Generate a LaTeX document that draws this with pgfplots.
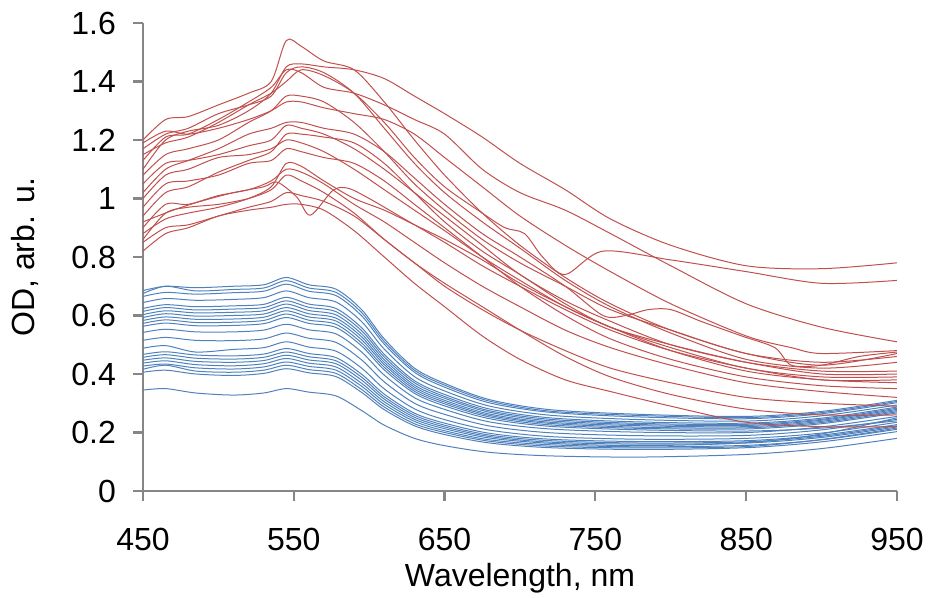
\documentclass[border=0pt]{standalone}
\usepackage{fontspec}
\setmainfont{Liberation Sans}
\usepackage{pgfplots}
\pgfplotsset{compat=1.18}
\definecolor{rd}{HTML}{C0504D}
\definecolor{bl}{HTML}{4F81BD}
\definecolor{axc}{RGB}{134,134,134}
\begin{document}
\fontsize{16}{19}\selectfont
\begin{tikzpicture}
\begin{axis}[
 scale only axis, width=377pt, height=234pt,
 xmin=450, xmax=950, ymin=0, ymax=1.6,
 axis x line*=bottom, axis y line*=left,
 axis line style={axc, line width=1.1pt, -},
 xtick={450,550,650,750,850,950},
 ytick={0,0.2,0.4,0.6,0.8,1,1.2,1.4,1.6},
 tick style={axc, line width=1.1pt},
 tick align=outside, major tick length=5pt,
 font=\fontsize{16}{19}\selectfont,
 ticklabel style={font=\fontsize{16}{19}\selectfont},
 xticklabel style={yshift=-8pt},
 yticklabel style={xshift=-3pt},
 /pgf/number format/assume math mode=true,
 xlabel={Wavelength, nm}, ylabel={OD, arb. u.},
 xlabel style={at={(axis description cs:0.5,-0.186)}, anchor=center},
 ylabel style={at={(axis description cs:-0.1565,0.5)}, anchor=center},
 every axis plot/.append style={line width=0.5pt, smooth, tension=0.5, no markers},
]
% ---- blue series ----
\addplot[bl] coordinates {(450,.345)(465,.350)(485,.335)(510,.328)(530,.335)(545,.350)(560,.338)(578,.325)(595,.275)(610,.225)(630,.180)(650,.155)(680,.132)(720,.120)(780,.116)(850,.125)(900,.145)(950,.180)};
\addplot[bl] coordinates {(450,.406)(465,.413)(485,.400)(510,.395)(530,.402)(545,.418)(560,.404)(578,.391)(595,.337)(610,.278)(630,.223)(650,.193)(680,.164)(720,.148)(780,.142)(850,.148)(900,.168)(950,.203)};
\addplot[bl] coordinates {(450,.416)(465,.430)(485,.410)(510,.406)(530,.413)(545,.430)(560,.415)(578,.402)(595,.347)(610,.287)(630,.230)(650,.200)(680,.170)(720,.153)(780,.147)(850,.152)(900,.176)(950,.215)};
\addplot[bl] coordinates {(450,.427)(465,.434)(485,.421)(510,.417)(530,.424)(545,.441)(560,.426)(578,.413)(595,.358)(610,.296)(630,.238)(650,.206)(680,.175)(720,.158)(780,.151)(850,.156)(900,.175)(950,.211)};
\addplot[bl] coordinates {(450,.437)(465,.445)(485,.432)(510,.428)(530,.435)(545,.453)(560,.437)(578,.424)(595,.368)(610,.305)(630,.245)(650,.213)(680,.181)(720,.163)(780,.155)(850,.165)(900,.195)(950,.250)};
\addplot[bl] coordinates {(450,.447)(465,.455)(485,.443)(510,.440)(530,.446)(545,.464)(560,.448)(578,.435)(595,.379)(610,.314)(630,.252)(650,.219)(680,.186)(720,.167)(780,.160)(850,.164)(900,.183)(950,.219)};
\addplot[bl] coordinates {(450,.457)(465,.466)(485,.454)(510,.451)(530,.457)(545,.475)(560,.459)(578,.445)(595,.389)(610,.322)(630,.259)(650,.225)(680,.191)(720,.172)(780,.164)(850,.168)(900,.187)(950,.223)};
\addplot[bl] coordinates {(450,.467)(465,.476)(485,.465)(510,.462)(530,.468)(545,.487)(560,.470)(578,.456)(595,.399)(610,.331)(630,.266)(650,.232)(680,.197)(720,.177)(780,.169)(850,.172)(900,.191)(950,.227)};
\addplot[bl] coordinates {(450,.488)(465,.497)(485,.475)(510,.484)(530,.490)(545,.510)(560,.492)(578,.478)(595,.420)(610,.349)(630,.281)(650,.244)(680,.208)(720,.186)(780,.177)(850,.180)(900,.198)(950,.235)};
\addplot[bl] coordinates {(450,.515)(465,.525)(485,.515)(510,.514)(530,.520)(545,.540)(560,.522)(578,.508)(595,.448)(610,.373)(630,.300)(650,.262)(680,.222)(720,.199)(780,.189)(850,.190)(900,.209)(950,.245)};
\addplot[bl] coordinates {(450,.542)(465,.553)(485,.544)(510,.544)(530,.550)(545,.570)(560,.551)(578,.537)(595,.475)(610,.396)(630,.319)(650,.279)(680,.236)(720,.212)(780,.201)(850,.200)(900,.219)(950,.255)};
\addplot[bl] coordinates {(450,.563)(465,.574)(485,.565)(510,.566)(530,.572)(545,.593)(560,.573)(578,.559)(595,.496)(610,.414)(630,.334)(650,.291)(680,.247)(720,.221)(780,.209)(850,.205)(900,.215)(950,.240)};
\addplot[bl] coordinates {(450,.573)(465,.585)(485,.576)(510,.577)(530,.583)(545,.605)(560,.584)(578,.570)(595,.506)(610,.423)(630,.341)(650,.298)(680,.253)(720,.226)(780,.214)(850,.212)(900,.230)(950,.267)};
\addplot[bl] coordinates {(450,.583)(465,.595)(485,.587)(510,.588)(530,.594)(545,.616)(560,.595)(578,.581)(595,.517)(610,.432)(630,.348)(650,.304)(680,.258)(720,.231)(780,.218)(850,.216)(900,.234)(950,.271)};
\addplot[bl] coordinates {(450,.593)(465,.606)(485,.598)(510,.600)(530,.605)(545,.627)(560,.606)(578,.591)(595,.527)(610,.440)(630,.355)(650,.310)(680,.263)(720,.235)(780,.223)(850,.220)(900,.238)(950,.275)};
\addplot[bl] coordinates {(450,.603)(465,.616)(485,.609)(510,.611)(530,.616)(545,.639)(560,.617)(578,.602)(595,.537)(610,.449)(630,.362)(650,.317)(680,.269)(720,.240)(780,.227)(850,.224)(900,.242)(950,.279)};
\addplot[bl] coordinates {(450,.614)(465,.627)(485,.619)(510,.622)(530,.627)(545,.650)(560,.628)(578,.613)(595,.548)(610,.458)(630,.370)(650,.323)(680,.274)(720,.245)(780,.231)(850,.228)(900,.245)(950,.283)};
\addplot[bl] coordinates {(450,.624)(465,.637)(485,.630)(510,.633)(530,.638)(545,.662)(560,.639)(578,.624)(595,.558)(610,.467)(630,.377)(650,.330)(680,.280)(720,.250)(780,.236)(850,.232)(900,.249)(950,.287)};
\addplot[bl] coordinates {(450,.644)(465,.658)(485,.652)(510,.655)(530,.661)(545,.684)(560,.661)(578,.646)(595,.579)(610,.485)(630,.391)(650,.342)(680,.290)(720,.259)(780,.244)(850,.239)(900,.257)(950,.294)};
\addplot[bl] coordinates {(450,.665)(465,.679)(485,.673)(510,.678)(530,.683)(545,.707)(560,.683)(578,.668)(595,.599)(610,.502)(630,.406)(650,.355)(680,.301)(720,.269)(780,.253)(850,.247)(900,.264)(950,.302)};
\addplot[bl] coordinates {(450,.675)(465,.700)(485,.684)(510,.689)(530,.694)(545,.719)(560,.694)(578,.679)(595,.610)(610,.511)(630,.413)(650,.362)(680,.307)(720,.273)(780,.258)(850,.251)(900,.268)(950,.306)};
\addplot[bl] coordinates {(450,.685)(465,.700)(485,.695)(510,.700)(530,.705)(545,.730)(560,.705)(578,.690)(595,.620)(610,.520)(630,.420)(650,.368)(680,.312)(720,.278)(780,.262)(850,.255)(900,.272)(950,.310)};
% ---- red series ----
\addplot[rd] coordinates {(450,1.20)(465,1.27)(480,1.28)(500,1.32)(520,1.36)(535,1.40)(545,1.54)(555,1.52)(570,1.47)(590,1.44)(610,1.33)(630,1.20)(650,1.08)(675,0.95)(700,0.84)(730,0.73)(760,0.64)(800,0.55)(850,0.47)(900,0.43)(950,0.47)};
\addplot[rd] coordinates {(450,1.10)(465,1.20)(480,1.23)(500,1.25)(520,1.30)(535,1.36)(545,1.45)(555,1.46)(570,1.45)(590,1.44)(610,1.41)(630,1.35)(650,1.29)(675,1.21)(700,1.12)(730,1.03)(760,0.93)(800,0.84)(850,0.77)(900,0.76)(950,0.78)};
\addplot[rd] coordinates {(450,1.15)(465,1.19)(480,1.21)(500,1.26)(520,1.32)(535,1.36)(545,1.40)(555,1.44)(570,1.42)(590,1.36)(610,1.26)(630,1.14)(650,1.04)(675,0.95)(690,0.90)(703,0.88)(715,0.80)(730,0.74)(755,0.82)(800,0.79)(850,0.75)(900,0.71)(950,0.72)};
\addplot[rd] coordinates {(450,1.13)(465,1.21)(480,1.22)(500,1.27)(520,1.33)(535,1.38)(545,1.44)(555,1.43)(570,1.38)(590,1.36)(610,1.32)(630,1.27)(650,1.22)(675,1.10)(700,1.02)(730,0.96)(760,0.88)(800,0.77)(850,0.64)(900,0.56)(950,0.51)};
\addplot[rd] coordinates {(450,1.02)(465,1.10)(480,1.13)(500,1.17)(520,1.22)(535,1.24)(545,1.26)(555,1.26)(570,1.24)(590,1.22)(610,1.16)(630,1.07)(650,0.98)(675,0.88)(700,0.80)(730,0.70)(755,0.60)(770,0.60)(785,0.62)(800,0.62)(820,0.58)(847,0.53)(869,0.49)(880,0.43)(900,0.43)(925,0.46)(950,0.475)};
\addplot[rd] coordinates {(450,1.08)(465,1.15)(480,1.17)(500,1.20)(520,1.26)(535,1.30)(545,1.35)(555,1.35)(570,1.33)(590,1.26)(610,1.16)(630,1.05)(650,0.96)(675,0.86)(700,0.78)(730,0.70)(760,0.62)(800,0.55)(850,0.47)(900,0.44)(950,0.46)};
\addplot[rd] coordinates {(450,1.05)(465,1.12)(480,1.13)(500,1.15)(520,1.18)(535,1.20)(545,1.25)(555,1.24)(570,1.22)(590,1.17)(610,1.10)(630,1.02)(650,0.94)(675,0.84)(700,0.74)(730,0.65)(760,0.58)(800,0.50)(850,0.44)(900,0.41)(950,0.41)};
\addplot[rd] coordinates {(450,1.00)(465,1.08)(480,1.10)(500,1.14)(520,1.15)(535,1.17)(545,1.20)(555,1.19)(570,1.16)(590,1.10)(610,1.03)(630,0.96)(650,0.89)(675,0.80)(700,0.72)(730,0.63)(760,0.56)(800,0.49)(850,0.42)(900,0.39)(950,0.39)};
\addplot[rd] coordinates {(450,0.92)(470,0.96)(488,0.99)(510,1.02)(530,1.04)(539,1.056)(552,1.005)(561,0.943)(576,1.028)(586,1.035)(600,1.00)(620,0.94)(650,0.85)(675,0.77)(700,0.70)(730,0.62)(760,0.55)(800,0.48)(850,0.42)(900,0.38)(950,0.38)};
\addplot[rd] coordinates {(450,0.97)(465,1.05)(480,1.06)(500,1.08)(520,1.12)(535,1.13)(545,1.17)(555,1.16)(570,1.14)(590,1.12)(610,1.06)(630,0.98)(650,0.90)(675,0.80)(700,0.70)(730,0.60)(760,0.52)(800,0.45)(850,0.39)(900,0.36)(950,0.35)};
\addplot[rd] coordinates {(450,0.90)(465,0.98)(480,0.98)(500,1.01)(520,1.03)(535,1.06)(545,1.10)(555,1.09)(570,1.05)(590,0.98)(610,0.92)(630,0.85)(650,0.78)(675,0.70)(700,0.63)(730,0.55)(760,0.49)(800,0.43)(850,0.37)(900,0.34)(950,0.32)};
\addplot[rd] coordinates {(450,0.82)(465,0.88)(480,0.90)(500,0.94)(520,0.96)(535,0.97)(545,0.98)(555,0.98)(570,0.96)(590,0.89)(610,0.80)(630,0.71)(650,0.63)(675,0.53)(700,0.45)(730,0.38)(760,0.34)(800,0.29)(850,0.235)(900,0.22)(950,0.22)};
\addplot[rd] coordinates {(450,0.86)(465,0.95)(480,0.97)(500,0.98)(520,1.00)(535,1.03)(545,1.08)(555,1.06)(570,1.02)(590,0.95)(610,0.86)(630,0.78)(650,0.70)(675,0.62)(700,0.55)(730,0.48)(760,0.42)(800,0.37)(850,0.32)(900,0.30)(950,0.29)};
\addplot[rd] coordinates {(450,1.17)(465,1.22)(480,1.24)(500,1.29)(520,1.32)(535,1.35)(545,1.43)(555,1.45)(570,1.43)(590,1.36)(610,1.24)(630,1.12)(650,1.02)(675,0.92)(700,0.83)(730,0.72)(760,0.63)(800,0.54)(850,0.45)(900,0.42)(950,0.44)};
\addplot[rd] coordinates {(450,0.94)(465,1.02)(480,1.04)(500,1.09)(520,1.13)(535,1.16)(545,1.22)(555,1.22)(570,1.21)(590,1.19)(610,1.12)(630,1.02)(650,0.92)(675,0.82)(700,0.74)(730,0.64)(760,0.56)(800,0.50)(850,0.44)(900,0.40)(950,0.40)};
\addplot[rd] coordinates {(450,0.88)(465,0.93)(480,0.95)(500,0.97)(520,1.00)(535,1.04)(545,1.12)(555,1.11)(570,1.06)(590,1.00)(610,0.96)(630,0.91)(650,0.86)(675,0.79)(700,0.71)(730,0.63)(760,0.56)(800,0.48)(850,0.41)(900,0.38)(950,0.37)};
\addplot[rd] coordinates {(450,0.85)(465,0.90)(480,0.91)(500,0.94)(520,0.97)(535,0.99)(545,1.02)(555,1.01)(570,0.99)(590,0.94)(610,0.86)(630,0.78)(650,0.71)(675,0.63)(700,0.55)(730,0.46)(760,0.39)(800,0.33)(850,0.28)(900,0.26)(950,0.26)};
\addplot[rd] coordinates {(450,1.19)(465,1.23)(480,1.22)(500,1.24)(520,1.27)(535,1.30)(545,1.33)(555,1.33)(570,1.31)(590,1.29)(610,1.27)(630,1.22)(650,1.14)(675,1.04)(700,0.94)(730,0.84)(760,0.75)(800,0.64)(850,0.53)(880,0.49)(900,0.47)(950,0.48)};
\end{axis}
\pgfresetboundingbox
\path (-71.5pt,-53.5pt) rectangle (392.5pt,245.5pt);
\end{tikzpicture}
\end{document}
